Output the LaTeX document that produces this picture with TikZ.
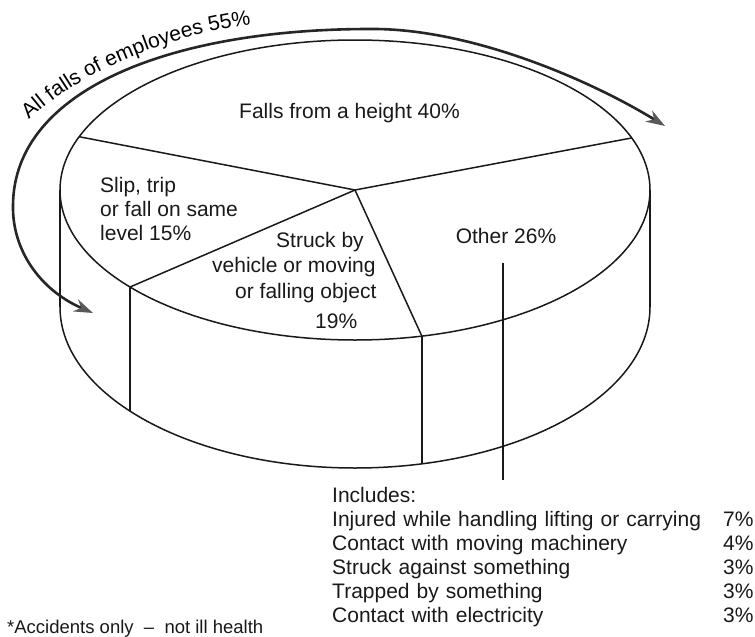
\documentclass[tikz,border=0pt]{standalone}
\usepackage{fontspec}
\setmainfont{Liberation Sans}
\usetikzlibrary{arrows.meta, decorations.text, matrix, calc}

\begin{document}
\begin{tikzpicture}[
		x=1pt, y=-1pt,
		font=\fontsize{21}{24}\selectfont,
		% Outline of the pie
		pie line/.style={line width=1.5pt, black!90},
		% Text inside the slices
		slice label/.style={inner sep=0pt, text=black!90},
		% Curved arrow round the falls
		fall arrow/.style={line width=2.6pt, black!85,
			{Stealth[length=19pt, width=13pt, color=black!65]}-{Stealth[length=19pt, width=13pt, color=black!65]}},
		% Table of the other accidents
		incl/.style={
			matrix of nodes, inner sep=0pt,
			nodes={inner sep=0pt, anchor=base west, text height=15pt, text depth=5pt, text=black!90},
			column 1/.style={nodes={text width=391pt}},
			column sep=0pt, row sep=4.1pt,
			ampersand replacement=\&
		}
		]
		\useasboundingbox (0,0) rectangle (755,637);
		
		% ==============================================================================
		% The cylinder
		% ==============================================================================
		\coordinate (top c) at (355,190);
		\coordinate (bot c) at (355,307);
		
		\draw[pie line] (top c) ellipse [x radius=295, y radius=150];
		\draw[pie line] (60,307) arc [start angle=180, end angle=0, x radius=295, y radius=161];
		\draw[pie line] (60,190) -- (60,307);
		\draw[pie line] (650,190) -- (650,307);
		
		% Slice borders
		\path (top c) ++(200.8:295 and 150) coordinate (t1);
		\path (top c) ++(139.7:295 and 150) coordinate (t2);
		\path (top c) ++(76.9:295 and 150) coordinate (t3);
		\path (top c) ++(339.7:295 and 150) coordinate (t4);
		\path (bot c) ++(139.7:295 and 161) coordinate (b2);
		\path (bot c) ++(76.9:295 and 161) coordinate (b3);
		\foreach \t in {t1, t2, t3, t4} {
				\draw[pie line] (top c) -- (\t);
			}
		\draw[pie line] (t2) -- (b2);
		\draw[pie line] (t3) -- (b3);
		
		% ==============================================================================
		% Slice labels
		% ==============================================================================
		\node[slice label, anchor=base] (falls) at (349.5,118.3) {Falls from a height 40\%};
		\node[slice label, anchor=north west, align=left] (slip) at (100,177) {
				Slip, trip\\
				or fall on same\\
				level 15\%
			};
		\node[slice label, anchor=north west, align=left, font=\fontsize{21}{25.5}\selectfont] (struck) at (212,232) {
				\hspace*{64pt}Struck by\\
				vehicle or moving\\
				\hspace*{23pt}or falling object\\[4.5pt]
				\hspace*{103pt}19\%
			};
		\node[slice label, anchor=base] (other) at (506,243) {Other 26\%};
		
		% Leader from "Other" down to the list
		\coordinate (lead bot) at (503,480);
		\draw[pie line] ($(other.south -| lead bot)+(0,20)$) -- (lead bot);
		
		\matrix[incl, anchor=north west] (others) at (332,487) {
				Includes: \\
				Injured while handling lifting or carrying \& 7\% \\
				Contact with moving machinery \& 4\% \\
				Struck against something \& 3\% \\
				Trapped by something \& 3\% \\
				Contact with electricity \& 3\% \\
			};
		
		\node[slice label, anchor=base west, font=\fontsize{18.5}{20}\selectfont] (note) at (7,633) {*Accidents only\ \ –\ \ not ill health};
		
		% ==============================================================================
		% Arrow for all falls
		% ==============================================================================
		\coordinate (arr start) at (93,313);
		\coordinate (arr end) at (665,126);
		\draw[fall arrow] (arr start) .. controls (40,290) and (12,250) .. (13,205)
			.. controls (14,90) and (170,29) .. (370,29)
			.. controls (470,28) and (590,80) .. (arr end);
		\path[decorate, decoration={text along path, text align=left,
					text={|\fontsize{21}{22}\selectfont|All falls of employees 55{\%}}}]
			(29,120) .. controls (76,76) and (160,35) .. (262,23);
	\end{tikzpicture}
\end{document}
